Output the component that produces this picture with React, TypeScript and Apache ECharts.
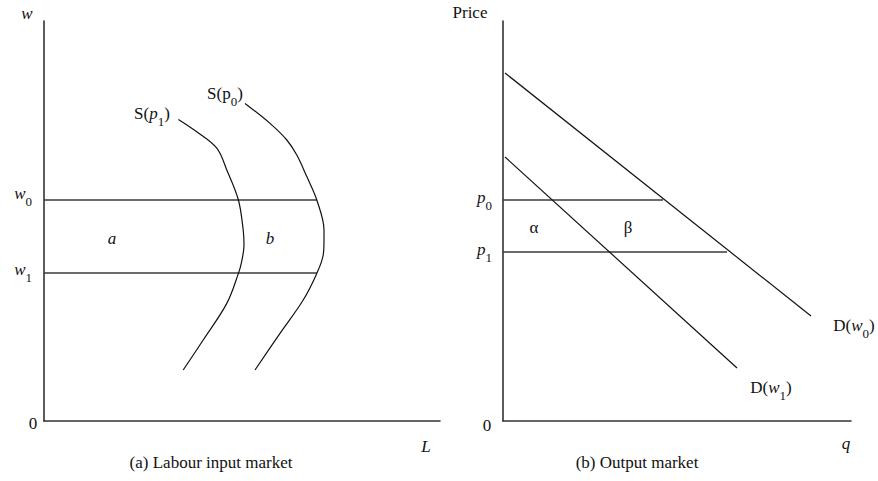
import React, { useEffect, useRef } from "react";
import * as echarts from "echarts";

// ---- Panel (a): labour input market ----
// Wage levels (w0 above w1) and the right end of the wage lines
const wageLevels = [55.25, 37];
const wageLineEnd = 68.2;
// Backward-bending labour supply curves [L, w]
const supplyP1 = [
  [33.6, 75.4], [38.2, 72.3], [43.2, 68.2], [45.7, 62.75], [48.6, 55.25],
  [49.8, 47.75], [50, 44], [49.4, 39.8], [48.6, 36.9], [45.7, 29.4],
  [39.8, 20.25], [34.8, 12.75],
];
const supplyP0 = [
  [50.25, 79.4], [56.5, 74.4], [60.7, 70.25], [63.2, 66.5], [65.7, 61.1],
  [68.2, 55.25], [70, 47.75], [70, 45.25], [69.8, 41.5], [68.2, 36.9],
  [64.8, 30.25], [59, 21.9], [52.75, 12.75],
];

// ---- Panel (b): output market ----
// Price levels (p0 above p1) and where each price line stops
const priceLevels = [55.25, 42.25];
const priceLineEnds = [40, 56];
// Linear demand curves [q, price]
const demandW0 = [[0.5, 87], [77, 26.25]];
const demandW1 = [[0.5, 66], [58.5, 13.25]];

const FONT = '"Liberation Serif", "Times New Roman", serif';
const INK = "#111";

const rich = {
  n: { fontFamily: FONT, fontSize: 17, lineHeight: 19, verticalAlign: "top", fill: INK },
  c: { fontFamily: FONT, fontSize: 17, lineHeight: 19, verticalAlign: "top", fill: INK },
  i: { fontFamily: FONT, fontSize: 17, lineHeight: 19, verticalAlign: "top", fontStyle: "italic", fill: INK },
  s: { fontFamily: FONT, fontSize: 13, lineHeight: 13, verticalAlign: "top", padding: [10, 0, 0, 0], fill: INK },
};

function label(text: string, x: number, y: number, align: string = "center") {
  return {
    type: "text",
    x,
    y,
    silent: true,
    style: {
      text,
      rich,
      fontFamily: FONT,
      fontSize: 17,
      fill: INK,
      textAlign: align,
      textVerticalAlign: "middle",
    },
  };
}

function plainAxis(gridIndex: number, max: number) {
  return {
    type: "value",
    gridIndex,
    min: 0,
    max,
    axisLine: { show: true, onZero: false, lineStyle: { color: "#333", width: 1.6 } },
    axisTick: { show: false },
    axisLabel: { show: false },
    splitLine: { show: false },
  };
}

function segment(xi: number, data: number[][], color = "#222", width = 1.3) {
  return {
    type: "line",
    xAxisIndex: xi,
    yAxisIndex: xi,
    data,
    symbol: "none",
    silent: true,
    lineStyle: { color, width },
  };
}

export default function App() {
  const ref = useRef<HTMLDivElement>(null);

  useEffect(() => {
    if (!ref.current) return;
    const chart = echarts.init(ref.current, null, { renderer: "svg" });

    const series: any[] = [];
    wageLevels.forEach((w) => series.push(segment(0, [[0, w], [wageLineEnd, w]], "#3a3a3a", 1.6)));
    series.push({ ...segment(0, supplyP1, "#111", 1.2), smooth: 0.35 });
    series.push({ ...segment(0, supplyP0, "#111", 1.2), smooth: 0.35 });
    priceLevels.forEach((p, k) => series.push(segment(1, [[0, p], [priceLineEnds[k], p]], "#3a3a3a", 1.6)));
    series.push(segment(1, demandW0, "#111", 1.2));
    series.push(segment(1, demandW1, "#111", 1.2));

    chart.setOption({
      animation: false,
      backgroundColor: "#fff",
      grid: [
        { left: 44, top: 21, width: 396, height: 400 },
        { left: 503, top: 21, width: 348, height: 400 },
      ],
      xAxis: [plainAxis(0, 99), plainAxis(1, 87)],
      yAxis: [plainAxis(0, 100), plainAxis(1, 100)],
      series,
      graphic: [
        // panel (a)
        label("{i|w}", 27, 14.6),
        label("{i|w}{s|0}", 32, 194.6, "right"),
        label("{i|w}{s|1}", 32, 270.6, "right"),
        label("{n|0}", 33, 424.6),
        label("{i|L}", 426, 447.6),
        label("{i|a}", 112, 239.6),
        label("{i|b}", 270, 239.6),
        label("{n|S(}{i|p}{s|1}{n|)}", 152, 114.9),
        label("{n|S(p}{s|0}{n|)}", 225, 94.3),
        label("{c|(a) Labour input market}", 211, 463.6),
        // panel (b)
        label("{c|Price}", 470, 13.6),
        label("{i|p}{s|0}", 492, 198.6, "right"),
        label("{i|p}{s|1}", 492, 250.6, "right"),
        label("{n|0}", 487, 426.6),
        label("{i|q}", 846, 444.6),
        label("{n|α}", 534, 228.2),
        label("{n|β}", 628, 228.6),
        label("{n|D(}{i|w}{s|0}{n|)}", 854, 326.6),
        label("{n|D(}{i|w}{s|1}{n|)}", 771, 388.3),
        label("{c|(b) Output market}", 637, 463.6),
      ],
    });

    return () => chart.dispose();
  }, []);

  return <div ref={ref} style={{ width: 878, height: 481, position: "absolute", left: 0, top: 0 }} />;
}
